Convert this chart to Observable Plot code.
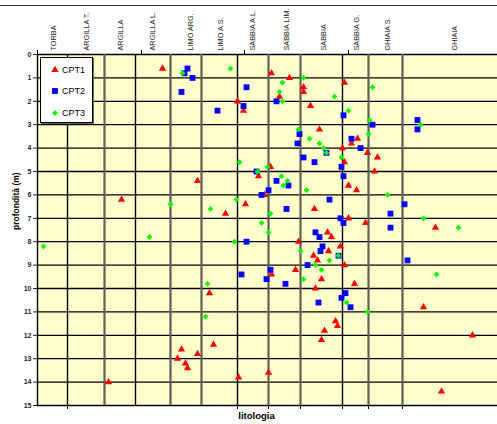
<!DOCTYPE html>
<html>
<head>
<meta charset="utf-8">
<script src="https://cdn.jsdelivr.net/npm/d3@7"></script>
<script src="https://cdn.jsdelivr.net/npm/@observablehq/plot@0.6"></script>
<style>
  body { margin: 0; background: #fff; font-family: "Liberation Sans", Arial, sans-serif; }
  #wrap { position: relative; width: 497px; height: 424px; overflow: hidden; }
  #topline { position: absolute; left: 0; top: 5px; width: 497px; border-top: 1.5px solid #333; }
  #legend { position: absolute; left: 40px; top: 57px; width: 51px; height: 64px; background: #fff;
            border: 1px solid #000; box-shadow: 1px 1px 0 #666; }
  .lrow { position: absolute; left: 0; height: 12px; display: flex; align-items: center; font-size: 9px; color: #000; }
  .lrow svg { margin-left: 9px; margin-right: 2px; }
  [aria-label^="y-axis"] text { font-weight: bold; }
</style>
</head>
<body>
<div id="wrap"><div id="topline"></div></div>
<script>
// Lithology categories (label positions along the lithology index) and boundaries
const categories = ["TORBA", "ARGILLA T.", "ARGILLA", "ARGILLA L.", "LIMO ARG.", "LIMO A.S.",
                    "SABBIA A.L.", "SABBIA LIM.", "SABBIA", "SABBIA G.", "GHIAIA S.", "GHIAIA"];
const categoryPos = [13, 46, 80, 112, 150, 180, 212, 246, 283, 316, 347, 414];
const boundsBlack = [30, 98, 200, 305];
const boundsGray = [67, 133, 164, 231, 263, 331, 365];
const topTicks = [0, 104, 207, 311];
const bottomTicks = [30, 200, 231, 263, 305, 331, 365];
const depthTicks = [0,1,2,3,4,5,6,7,8,9,10,11,12,13,14,15];

// [lithology index, depth (m)]
const cpt1 = [
  [125,0.6],[234,0.8],[252,1.0],[307,1.2],[266,1.4],[266,1.6],[242,1.8],[200,2.0],[273,2.2],[206,2.4],
  [282,3.2],[320,3.6],[314,3.8],[305,4.0],[330,4.2],[340,4.4],[307,4.6],[233,4.8],[337,5.0],[221,5.2],
  [160,5.4],[311,5.6],[319,5.8],[227,6.0],[84,6.2],[208,6.4],[277,6.6],[188,6.8],[311,7.0],[328,7.2],
  [398,7.4],[290,7.6],[294,7.8],[261,8.0],[303,8.2],[291,8.4],[276,8.6],[280,8.8],[307,9.0],[258,9.2],
  [234,9.4],[284,9.6],[317,9.8],[278,10.0],[172,10.2],[386,10.8],[298,11.4],[300,11.6],[287,11.8],[435,12.0],
  [284,12.2],[176,12.4],[144,12.6],[160,12.8],[140,13.0],[148,13.2],[150,13.4],[231,13.6],[201,13.8],[71,14.0],
  [404,14.4]
];
const cpt2 = [
  [150,0.6],[147,0.8],[155,1.0],[209,1.4],[144,1.6],[239,2.0],[206,2.2],[180,2.4],[306,2.6],[380,2.8],
  [335,3.0],[380,3.2],[262,3.4],[314,3.6],[260,3.8],[323,4.0],[289,4.2],[266,4.4],[277,4.6],[304,4.8],
  [219,5.0],[306,5.2],[239,5.4],[251,5.6],[231,5.8],[224,6.0],[292,6.2],[367,6.4],[249,6.6],[353,6.8],
  [303,7.0],[306,7.2],[353,7.4],[278,7.6],[282,7.8],[209,8.0],[285,8.2],[283,8.4],[301,8.6],[370,8.8],
  [270,9.0],[233,9.2],[204,9.4],[229,9.6],[248,9.8],[308,10.2],[304,10.4],[281,10.6],[313,10.8]
];
const cpt3 = [
  [193,0.6],[145,0.8],[266,1.0],[245,1.2],[335,1.4],[242,1.6],[297,1.8],[245,2.0],[311,2.4],[332,2.8],
  [383,3.0],[261,3.2],[331,3.4],[272,3.6],[282,3.8],[286,4.0],[289,4.2],[304,4.4],[202,4.6],[230,4.8],
  [220,5.0],[244,5.2],[250,5.4],[246,5.6],[269,5.8],[350,6.0],[199,6.2],[133,6.4],[173,6.6],[233,6.8],
  [386,7.0],[224,7.2],[421,7.4],[231,7.6],[112,7.8],[197,8.0],[6,8.2],[263,8.4],[301,8.6],[292,8.8],
  [278,9.0],[284,9.2],[399,9.4],[266,9.6],[170,9.8],[309,10.6],[330,11.0],[168,11.2]
];

const series = [
  {name: "CPT1", data: cpt1, symbol: "triangle", color: "#FF0000", r: 2.7},
  {name: "CPT2", data: cpt2, symbol: "square", color: "#0000FF", r: 3.3},
  {name: "CPT3", data: cpt3, symbol: "diamond2", color: "#00FF00", r: 2.6}
];

const chart = Plot.plot({
  width: 497, height: 424,
  marginLeft: 37, marginRight: 0, marginTop: 54, marginBottom: 19,
  style: {background: "transparent", fontFamily: "Liberation Sans, Arial, sans-serif", fontSize: "7px", color: "#222"},
  x: {domain: [0, 460], axis: null},
  y: {domain: [0, 15], reverse: true, ticks: depthTicks, tickSize: 4, tickPadding: 2, label: null, tickFormat: d => d},
  marks: [
    Plot.frame({fill: "#FFFFCC", stroke: "none"}),
    Plot.ruleY(depthTicks, {stroke: "#000", strokeWidth: 1.3}),
    Plot.ruleX(boundsGray, {stroke: "#5f5f55", strokeWidth: 2.2}),
    Plot.ruleX(boundsBlack, {stroke: "#000", strokeWidth: 1.4}),
    Plot.ruleX([0], {stroke: "#000", strokeWidth: 1.4}),
    Plot.ruleX(topTicks, {y1: -0.17, y2: 0, stroke: "#000"}),
    Plot.ruleX(bottomTicks, {y1: 15, y2: 15.17, stroke: "#000"}),
    Plot.text(categories, {x: (d, i) => categoryPos[i], frameAnchor: "top", dy: -4, rotate: -90,
      textAnchor: "start", fontSize: 7.3, fill: "#222"}),
    ...series.map(s => Plot.dot(s.data, {x: d => d[0], y: d => d[1], symbol: () => s.symbol, r: s.r,
      fill: s.color, stroke: "none"})),
    Plot.text(["profondità (m)"], {frameAnchor: "left", rotate: -90, dx: -21, fontWeight: "bold", fontSize: 8.5, fill: "#000"}),
    Plot.text(["litologia"], {frameAnchor: "bottom", dx: -11, dy: 13, fontWeight: "bold", fontSize: 9.5, fill: "#000"})
  ],
  symbol: {type: "identity"}
});

const wrap = document.getElementById("wrap");
wrap.insertBefore(chart, wrap.firstChild);

// Legend
const legend = document.createElement("div");
legend.id = "legend";
series.forEach((s, i) => {
  const row = document.createElement("div");
  row.className = "lrow";
  row.style.top = (5.5 + i * 21.5) + "px";
  const size = 10;
  const svg = d3.create("svg").attr("width", size).attr("height", size);
  const sym = {triangle: d3.symbolTriangle, square: d3.symbolSquare, diamond2: d3.symbolDiamond2}[s.symbol];
  svg.append("path").attr("transform", `translate(${size/2},${size/2})`)
    .attr("d", d3.symbol(sym, Math.PI * s.r * s.r)()).attr("fill", s.color);
  row.appendChild(svg.node());
  const t = document.createElement("span");
  t.textContent = s.name;
  row.appendChild(t);
  legend.appendChild(row);
});
wrap.appendChild(legend);
</script>
</body>
</html>
